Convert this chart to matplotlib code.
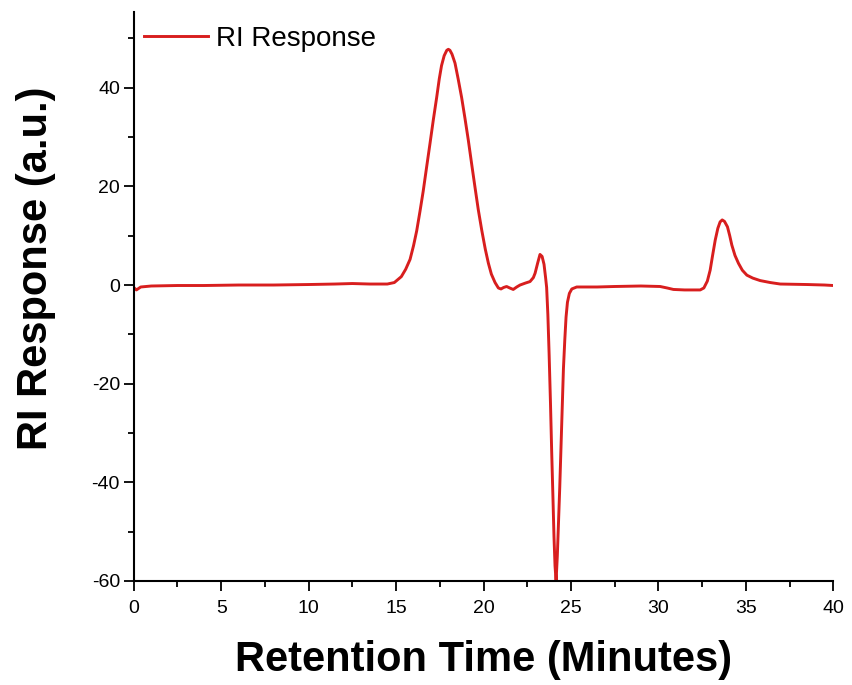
import matplotlib.pyplot as plt
from matplotlib.ticker import MultipleLocator

# RI detector trace (minutes, a.u.)
retention_time = [
    0.0, 0.15, 0.4, 1.0, 2.5, 4.0, 6.0, 8.0, 10.0, 11.5, 12.5, 13.5, 14.5,
    14.9, 15.3, 15.55, 15.8, 16.0, 16.18, 16.37, 16.55, 16.75, 16.94, 17.13,
    17.32, 17.47, 17.6, 17.75, 17.9, 17.99, 18.08, 18.2, 18.37, 18.55, 18.75,
    18.94, 19.13, 19.32, 19.51, 19.7, 19.9, 20.1, 20.28, 20.45, 20.66, 20.85,
    21.0, 21.15, 21.32, 21.5, 21.7, 21.9, 22.09, 22.4, 22.66, 22.85, 22.95,
    23.1, 23.23, 23.35, 23.46, 23.55, 23.61, 23.68, 23.75, 23.83, 23.9, 23.97,
    24.03, 24.09, 24.15, 24.22, 24.28, 24.36, 24.43, 24.5, 24.57, 24.65, 24.72,
    24.8, 24.91, 25.05, 25.33, 26.5, 27.5, 29.0, 30.1, 30.5, 30.86, 31.5,
    32.39, 32.6, 32.8, 32.96, 33.1, 33.25, 33.4, 33.53, 33.65, 33.78, 33.95,
    34.08, 34.2, 34.38, 34.58, 34.8, 35.06, 35.4, 35.82, 36.4, 36.97, 38.5,
    39.5, 40.0,
]
ri_response = [
    -0.5, -1.0, -0.4, -0.2, -0.1, -0.1, 0.0, 0.0, 0.1, 0.2, 0.3, 0.2, 0.2,
    0.5, 1.7, 3.2, 5.2, 8.0, 11.0, 15.0, 19.0, 24.0, 28.7, 33.5,
    38.0, 41.8, 44.5, 46.5, 47.6, 47.8, 47.6, 46.8, 45.0, 41.8, 38.0,
    33.8, 29.4, 24.6, 19.9, 15.3, 11.1, 7.3, 4.4, 2.2, 0.5, -0.6,
    -0.8, -0.5, -0.3, -0.6, -0.9, -0.4, 0.0, 0.4, 0.7, 1.5, 2.4,
    4.5, 6.2, 5.8, 4.2, 1.5, -0.5, -6.0, -13.8, -24.0, -34.0, -43.0,
    -51.0, -57.0, -60.0, -55.0, -49.0, -41.0, -33.0, -25.0, -17.0, -11.0, -6.5,
    -3.5, -1.7, -0.8, -0.4, -0.4, -0.3, -0.2, -0.3, -0.6, -0.9, -1.0,
    -1.0, -0.6, 0.8, 3.0, 6.0, 9.1, 11.5, 12.8, 13.2, 12.9, 11.8,
    10.0, 8.1, 6.0, 4.4, 3.0, 2.0, 1.4, 0.9, 0.5, 0.2, 0.1,
    0.0, -0.1,
]

plt.rcParams["font.family"] = "Liberation Sans"
plt.rcParams["axes.unicode_minus"] = False

fig = plt.figure(figsize=(8.52, 6.85), dpi=100)
ax = fig.add_axes([0.157, 0.152, 0.821, 0.83])

ax.plot(retention_time, ri_response, color="#d81e1e", lw=2.1,
        label="RI Response")

ax.set_xlim(0, 40)
ax.set_ylim(-60, 55.3)
ax.xaxis.set_major_locator(MultipleLocator(5))
ax.xaxis.set_minor_locator(MultipleLocator(2.5))
ax.yaxis.set_major_locator(MultipleLocator(20))
ax.yaxis.set_minor_locator(MultipleLocator(10))

for side in ("top", "right"):
    ax.spines[side].set_visible(False)
for side in ("left", "bottom"):
    ax.spines[side].set_linewidth(1.5)

ax.tick_params(which="major", direction="out", length=7, width=1.3,
               labelsize=14)
ax.tick_params(axis="x", which="major", pad=7)
ax.tick_params(axis="y", which="major", pad=3)
ax.tick_params(which="minor", direction="out", length=4, width=1.3)

ax.set_xlabel("Retention Time (Minutes)", fontsize=30, fontweight="bold")
ax.set_ylabel("RI Response (a.u.)", fontsize=30, fontweight="bold")
ax.xaxis.set_label_coords(0.5, -0.104)
ax.yaxis.set_label_coords(-0.111, 0.55)

ax.legend(loc="upper left", frameon=False, fontsize=20, handlelength=2.3,
          handletextpad=0.3, borderaxespad=0.1, bbox_to_anchor=(-0.005, 1.0))

fig.savefig("out.png", dpi=100)
